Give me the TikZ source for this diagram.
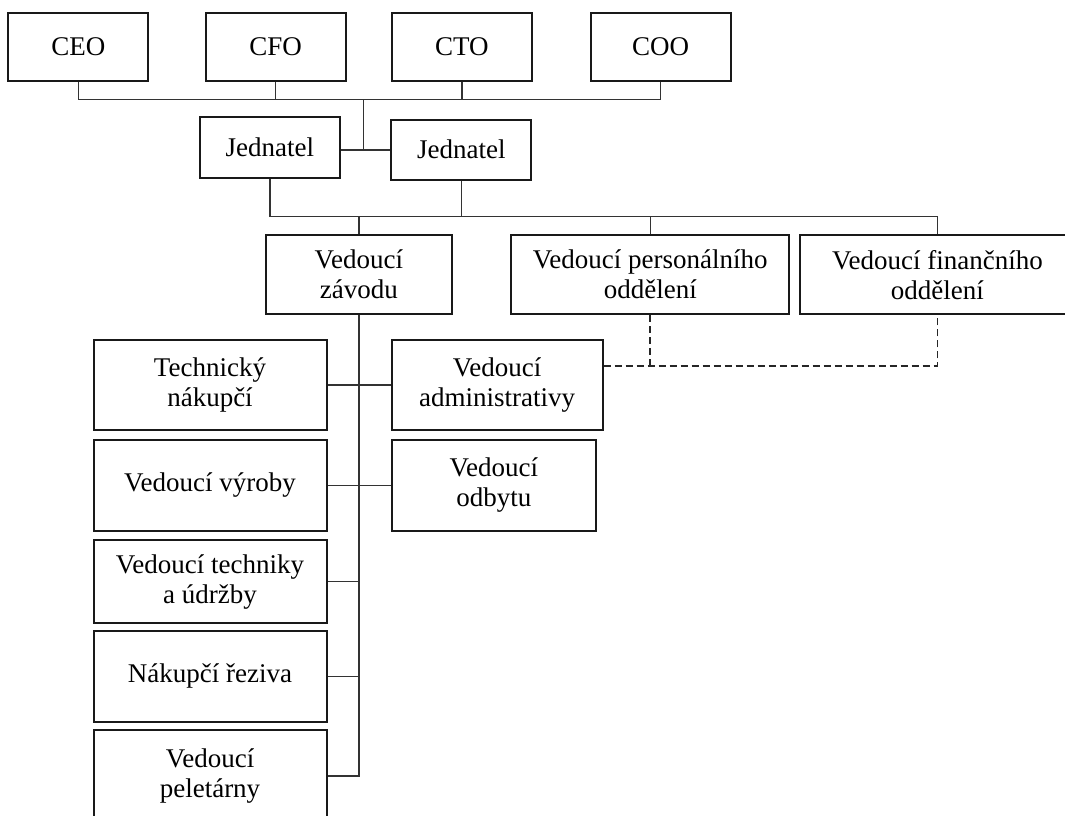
\documentclass[tikz,border=0pt]{standalone}
\usepackage{fontspec}
\setmainfont{Liberation Serif}
\begin{document}
\begin{tikzpicture}[x=1pt,y=-1pt,
  box/.style={draw=black!90,line width=2pt,rectangle,inner sep=0pt,align=center,
    font=\fontsize{27}{30}\selectfont,text=black},
  conn/.style={draw=black!80,line width=1.4pt},
  dconn/.style={draw=black!85,line width=1.7pt,dash pattern=on 7pt off 4pt}]
\useasboundingbox (0,0) rectangle (1065,816);
\clip (0,0) rectangle (1065,816);
% top row
\node[box,minimum width=140pt,minimum height=68pt] (ceo) at (78.3,46.7) {CEO};
\node[box,minimum width=140pt,minimum height=68pt] (cfo) at (275.6,46.7) {CFO};
\node[box,minimum width=140pt,minimum height=68pt] (cto) at (461.9,46.7) {CTO};
\node[box,minimum width=140pt,minimum height=68pt] (coo) at (660.6,46.7) {COO};
% Jednatel
\node[box,minimum width=140pt,minimum height=61pt] (j1) at (269.9,147.4) {Jednatel};
\node[box,minimum width=140pt,minimum height=60pt] (j2) at (461.3,149.5) {Jednatel};
% third row
\node[box,minimum width=186pt,minimum height=79pt] (zav) at (358.8,274.7) {Vedoucí\\závodu};
\node[box,minimum width=278pt,minimum height=79pt] (per) at (650.3,274.7) {Vedoucí personálního\\oddělení};
\node[box,minimum width=274pt,minimum height=79pt] (fin) at (937.4,274.7) {Vedoucí finančního\\oddělení};
% left column
\node[box,minimum width=233pt,minimum height=90pt] (tech) at (210,385) {Technický\\nákupčí};
\node[box,minimum width=233pt,minimum height=90.7pt] (vyr) at (210,485.3) {Vedoucí výroby};
\node[box,minimum width=233pt,minimum height=83.3pt] (tku) at (210,581.6) {Vedoucí techniky\\a údržby};
\node[box,minimum width=233pt,minimum height=91pt] (nak) at (210,676.2) {Nákupčí řeziva};
\node[box,minimum width=233pt,minimum height=92pt] (pel) at (210,776) {Vedoucí\\peletárny};
% right column
\node[box,minimum width=211pt,minimum height=90pt] (adm) at (497.2,385) {Vedoucí\\administrativy};
\node[box,minimum width=204pt,minimum height=90.7pt] (odb) at (493.8,485.3) {Vedoucí\\odbytu};
% helper coordinates
\coordinate (topbus) at (0,99.3);
\coordinate (tj) at (363.7,99.3);
\coordinate (jmid) at (363.7,150);
\coordinate (lowbus) at (0,216.7);
\coordinate (dashy) at (0,365.7);
% connectors
\draw[conn] (ceo.south) -- (ceo.south |- topbus) -| (coo.south);
\draw[conn] (cfo.south) -- (cfo.south |- topbus);
\draw[conn] (cto.south) -- (cto.south |- topbus);
\draw[conn] (tj) -- (jmid);
\draw[conn] (j1.east |- jmid) -- (j2.west |- jmid);
\draw[conn] (j1.south) -- (j1.south |- lowbus) -| (fin.north);
\draw[conn] (j2.south) -- (j2.south |- lowbus);
\draw[conn] (zav.north) -- (zav.north |- lowbus);
\draw[conn] (per.north) -- (per.north |- lowbus);
\draw[conn] (zav.south) -- (zav.south |- pel.east) -- (pel.east);
\draw[conn] (tech.east) -- (adm.west |- tech.east);
\draw[conn] (vyr.east) -- (odb.west |- vyr.east);
\draw[conn] (tku.east) -- (zav.south |- tku.east);
\draw[conn] (nak.east) -- (zav.south |- nak.east);
\draw[dconn] (adm.east |- dashy) -| (fin.south);
\draw[dconn] (per.south) -- (per.south |- dashy);
\end{tikzpicture}
\end{document}
